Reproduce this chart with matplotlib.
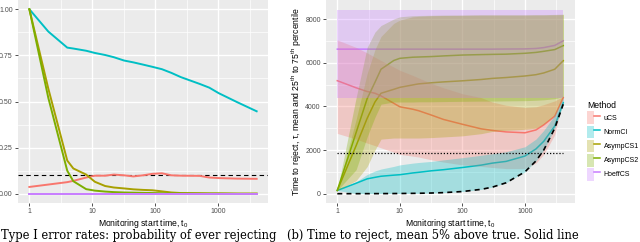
import matplotlib
matplotlib.use("Agg")
import matplotlib.pyplot as plt
from matplotlib.patches import Patch
from matplotlib.lines import Line2D
from matplotlib.legend_handler import HandlerTuple
import matplotlib.ticker as mticker

plt.rcParams['font.family'] = ['Liberation Sans', 'DejaVu Sans']
plt.rcParams['mathtext.fontset'] = 'custom'
plt.rcParams['mathtext.rm'] = 'Liberation Sans'
plt.rcParams['mathtext.it'] = 'Liberation Sans:italic'

# ---------------- data: panel (a) type I error ----------------
t_a = [1, 2, 4, 5, 8, 11, 16, 22, 32, 45, 64, 90, 128, 181, 256, 512, 724, 1024, 2048, 4096]
err_uCS = [0.037, 0.05, 0.063, 0.07, 0.088, 0.098, 0.098, 0.104, 0.10, 0.094, 0.10, 0.108,
           0.111, 0.10, 0.098, 0.097, 0.088, 0.085, 0.082, 0.081]
err_NormCI = [1.0, 0.879, 0.792, 0.787, 0.775, 0.763, 0.752, 0.740, 0.722, 0.712, 0.700, 0.688,
              0.675, 0.655, 0.632, 0.595, 0.575, 0.545, 0.495, 0.447]
err_AsympCS1 = [1.0, 0.57, 0.18, 0.137, 0.104, 0.065, 0.042, 0.034, 0.029, 0.024, 0.021, 0.019,
                0.013, 0.007, 0.004, 0.003, 0.002, 0.002, 0.001, 0.001]
err_AsympCS2 = [1.0, 0.52, 0.125, 0.068, 0.025, 0.017, 0.012, 0.009, 0.007, 0.006, 0.005, 0.004,
                0.003, 0.002, 0.002, 0.001, 0.001, 0.001, 0.0, 0.0]
err_HoeffCS = [0.0] * 20
alpha_level = 0.1

# ---------------- data: panel (b) time to reject ----------------
t_b = [1, 2, 3, 4, 5, 8, 10, 16, 20, 32, 50, 100, 200, 300, 500, 1000, 1500, 2000, 3000, 4096]
uCS_mean = [5175, 4850, 4680, 4600, 4480, 4140, 3980, 3870, 3800, 3600, 3400, 3180, 2970, 2900,
            2830, 2790, 2920, 3150, 3550, 4400]
uCS_lo = [2760, 2500, 2320, 2200, 2100, 1900, 1800, 1720, 1680, 1550, 1450, 1320, 1250, 1200,
          1150, 1150, 1400, 1800, 2700, 4300]
uCS_hi = [7040, 6700, 6450, 6250, 6100, 5800, 5650, 5420, 5300, 5050, 4850, 4580, 4400, 4200,
          4050, 3950, 3980, 4080, 4250, 4450]
NormCI_mean = [150, 480, 680, 750, 800, 850, 870, 950, 980, 1050, 1100, 1200, 1310, 1400, 1480,
               1725, 2050, 2400, 3100, 4170]
NormCI_lo = [150, 2, 3, 4, 5, 8, 10, 16, 20, 32, 50, 100, 200, 300, 500, 1000, 1500, 2000, 3000, 4096]
NormCI_hi = [150, 550, 880, 1040, 1130, 1250, 1320, 1400, 1430, 1480, 1550, 1650, 1760, 1830,
             1920, 2150, 2500, 2900, 3600, 4400]
A1_mean = [150, 2200, 3450, 4200, 4600, 4780, 4870, 4980, 5030, 5080, 5120, 5170, 5230, 5280,
           5320, 5390, 5450, 5530, 5700, 6090]
A1_lo = [150, 600, 1240, 2000, 2500, 2550, 2550, 2550, 2550, 2570, 2600, 2650, 2750, 2850, 2900,
         2950, 3000, 3200, 3600, 4400]
A1_hi = [150, 3400, 5500, 6600, 7200, 7800, 7950, 8100, 8120, 8150, 8160, 8170, 8180, 8180, 8180,
         8180, 8180, 8180, 8190, 8200]
A2_mean = [150, 2800, 4350, 5100, 5700, 6100, 6200, 6250, 6260, 6280, 6310, 6350, 6370, 6380,
           6390, 6430, 6470, 6520, 6600, 6780]
A2_lo = [150, 1100, 2600, 3500, 4100, 4200, 4200, 4200, 4210, 4210, 4220, 4230, 4240, 4240, 4250,
         4260, 4280, 4300, 4350, 4450]
A2_hi = [150, 4400, 6700, 7400, 7700, 8000, 8100, 8150, 8160, 8170, 8180, 8180, 8190, 8190, 8190,
         8190, 8200, 8200, 8210, 8220]
H_mean = [6620, 6620, 6620, 6620, 6620, 6620, 6620, 6620, 6620, 6620, 6620, 6620, 6620, 6620,
          6625, 6630, 6650, 6690, 6790, 7000]
H_lo = [4400] * 20
H_hi = [8410] * 20
lower_bound_b = [1, 2, 3, 4, 5, 8, 10, 16, 20, 32, 50, 100, 200, 300, 500, 1000, 1500, 2000, 3000, 4096]
dotted_level = 1850

methods = ['uCS', 'NormCI', 'AsympCS1', 'AsympCS2', 'HoeffCS']
colors = {'uCS': '#F8766D', 'NormCI': '#00BFC4', 'AsympCS1': '#A8A000',
          'AsympCS2': '#7CAE00', 'HoeffCS': '#C77CFF'}

W, H = 640, 242
fig = plt.figure(figsize=(6.4, 2.42), dpi=100)

def style(ax):
    ax.set_facecolor('#EBEBEB')
    for s in ax.spines.values():
        s.set_visible(False)
    ax.set_xscale('log')
    ax.set_xlim(10 ** -0.1806, 10 ** 3.7927)
    ax.xaxis.set_major_locator(mticker.FixedLocator([1, 10, 100, 1000]))
    ax.xaxis.set_major_formatter(mticker.FixedFormatter(['1', '10', '100', '1000']))
    ax.xaxis.set_minor_locator(mticker.FixedLocator([10 ** 0.5, 10 ** 1.5, 10 ** 2.5, 10 ** 3.5]))
    ax.xaxis.set_minor_formatter(mticker.NullFormatter())
    ax.grid(which='major', color='white', lw=1.0)
    ax.grid(which='minor', color='white', lw=0.5)
    ax.set_axisbelow(True)
    ax.tick_params(which='major', length=2.2, width=0.6, color='#333333',
                   labelsize=5, labelcolor='#4D4D4D', pad=1.5)
    ax.tick_params(which='minor', length=0)
    ax.set_xlabel('Monitoring start time, $\\mathrm{t_0}$', fontsize=6.2, labelpad=1.5)

# ---------- panel (a) ----------
axL = fig.add_axes([18 / W, 39 / H, 250 / W, 203 / H])
style(axL)
axL.set_ylim(-0.05, 1.05)
axL.set_yticks([0, 0.25, 0.5, 0.75, 1.0])
axL.set_yticklabels(['0.00', '0.25', '0.50', '0.75', '1.00'])
axL.yaxis.set_minor_locator(mticker.FixedLocator([0.125, 0.375, 0.625, 0.875]))
axL.axhline(alpha_level, color='black', lw=0.8, ls=(0, (4, 3)), zorder=3)
series_a = {'uCS': err_uCS, 'NormCI': err_NormCI, 'AsympCS1': err_AsympCS1,
            'AsympCS2': err_AsympCS2, 'HoeffCS': err_HoeffCS}
for m in methods:
    axL.plot(t_a, series_a[m], color=colors[m], lw=1.4, zorder=4)

# ---------- panel (b) ----------
axR = fig.add_axes([326 / W, 39 / H, 248.5 / W, 203 / H])
style(axR)
axR.set_ylim(-425, 8870)
axR.set_yticks([0, 2000, 4000, 6000, 8000])
axR.set_yticklabels(['0', '2000', '4000', '6000', '8000'])
axR.yaxis.set_minor_locator(mticker.FixedLocator([1000, 3000, 5000, 7000]))
axR.set_ylabel('Time to reject, τ, mean and 25$^{\\mathrm{th}}$ to 75$^{\\mathrm{th}}$ percentile',
               fontsize=6.2, labelpad=0.8)
means_b = {'uCS': uCS_mean, 'NormCI': NormCI_mean, 'AsympCS1': A1_mean,
           'AsympCS2': A2_mean, 'HoeffCS': H_mean}
bands_b = {'uCS': (uCS_lo, uCS_hi), 'NormCI': (NormCI_lo, NormCI_hi),
           'AsympCS1': (A1_lo, A1_hi), 'AsympCS2': (A2_lo, A2_hi), 'HoeffCS': (H_lo, H_hi)}
for m in methods:
    axR.plot(t_b, means_b[m], color=colors[m], lw=1.1, zorder=2)
for m in methods:
    lo, hi = bands_b[m]
    axR.fill_between(t_b, lo, hi, color=colors[m], alpha=0.3, lw=0, zorder=3)
axR.plot(t_b, lower_bound_b, color='black', lw=1.2, ls=(0, (3, 2.5)), zorder=5)
axR.plot([t_b[0], t_b[-1]], [dotted_level, dotted_level], color='black', lw=0.9,
         ls=(0, (1, 1.5)), zorder=5)

# legend
handles = [(Patch(facecolor=colors[m], alpha=0.3, lw=0), Line2D([], [], color=colors[m], lw=1.1))
           for m in methods]
leg = fig.legend(handles, methods, handler_map={tuple: HandlerTuple(ndivide=None, pad=0)},
                 loc='upper left', bbox_to_anchor=(587 / W, 1 - 101 / H), frameon=False,
                 fontsize=5.0, title='Method', title_fontsize=6.2, handlelength=1.9,
                 handleheight=2.45, labelspacing=0.2, handletextpad=0.5,
                 borderaxespad=0, borderpad=0, alignment='left')

# captions
fig.text(1 / W, 1 - 239.5 / H, 'Type I error rates: probability of ever rejecting',
         family='DejaVu Serif', fontsize=8.3, va='baseline', ha='left')
fig.text(287 / W, 1 - 239.5 / H, '(b) Time to reject, mean 5% above true. Solid line',
         family='DejaVu Serif', fontsize=8.3, va='baseline', ha='left')

fig.savefig('out.png', dpi=100)
